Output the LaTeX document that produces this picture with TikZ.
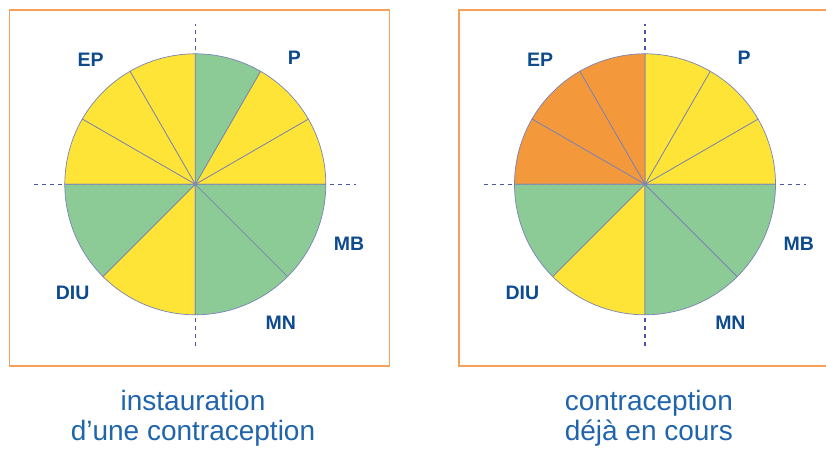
\documentclass[tikz,border=0pt]{standalone}
\usepackage{fontspec}
\setmainfont{Liberation Sans}
\usepackage{tikz}
\usetikzlibrary{positioning}
\usepackage{xcolor}

\definecolor{jaune}{RGB}{254,228,54}
\definecolor{vert}{RGB}{140,203,150}
\definecolor{orange}{RGB}{244,152,60}
\definecolor{bordure}{RGB}{247,160,90}
\definecolor{trait}{RGB}{122,130,182}
\definecolor{axebleu}{RGB}{76,86,160}
\definecolor{bleu}{RGB}{14,74,142}
\definecolor{bleuclair}{RGB}{32,100,172}

\begin{document}
\begin{tikzpicture}[x=1pt,y=1pt]
  \tikzstyle{cadre}=[draw=bordure,line width=1.6pt]
  \tikzstyle{axe}=[draw=axebleu,line width=1.2pt,dash pattern=on 4pt off 4pt]
  \tikzstyle{part}=[draw=trait,line width=0.7pt,line join=round]
  \tikzstyle{methode}=[text=bleu,font=\bfseries\fontsize{19.5}{19.5}\selectfont,inner sep=0pt]
  \tikzstyle{legende}=[text=bleuclair,font=\fontsize{28}{30}\selectfont,align=center,inner sep=0pt]

  \useasboundingbox (0,0) rectangle (826,448);

  % instauration
  \draw[cadre] (9.3,82.3) rectangle (389.3,438);
  \begin{scope}[shift={(195.3,263.7)}]
    \draw[axe] (-161,0) -- (161,0) (0,-162) -- (0,160);
    \foreach \a/\b/\c in {0/30/jaune,30/60/jaune,60/90/vert,90/120/jaune,
                          120/150/jaune,150/180/jaune,180/225/vert,
                          225/270/jaune,270/315/vert,315/360/vert}
      \filldraw[part,fill=\c] (0,0) -- (\a:130.5) arc (\a:\b:130.5) -- cycle;
    \node[methode] (ep1)  at (130:163)   {EP};
    \node[methode] (p1)   at (52:161)    {P};
    \node[methode] (mb1)  at (-21.3:165) {MB};
    \node[methode] (mn1)  at (-58.4:163) {MN};
    \node[methode] (diu1) at (221.6:164) {DIU};
  \end{scope}
  \node[legende,anchor=north] (leg1) at (193,58) {instauration\\d’une contraception};

  % deja en cours
  \draw[cadre] (459,82.3) rectangle (839,438);
  \begin{scope}[shift={(645,263.7)}]
    \draw[axe] (-161,0) -- (161,0) (0,-162) -- (0,160);
    \foreach \a/\b/\c in {0/30/jaune,30/60/jaune,60/90/jaune,90/120/orange,
                          120/150/orange,150/180/orange,180/225/vert,
                          225/270/jaune,270/315/vert,315/360/vert}
      \filldraw[part,fill=\c] (0,0) -- (\a:130.5) arc (\a:\b:130.5) -- cycle;
    \node[methode] (ep2)  at (130:163)   {EP};
    \node[methode] (p2)   at (52:161)    {P};
    \node[methode] (mb2)  at (-21.3:165) {MB};
    \node[methode] (mn2)  at (-58.4:163) {MN};
    \node[methode] (diu2) at (221.6:164) {DIU};
  \end{scope}
  \node[legende,anchor=north] (leg2) at (648.8,58) {contraception\\déjà en cours};
\end{tikzpicture}
\end{document}
